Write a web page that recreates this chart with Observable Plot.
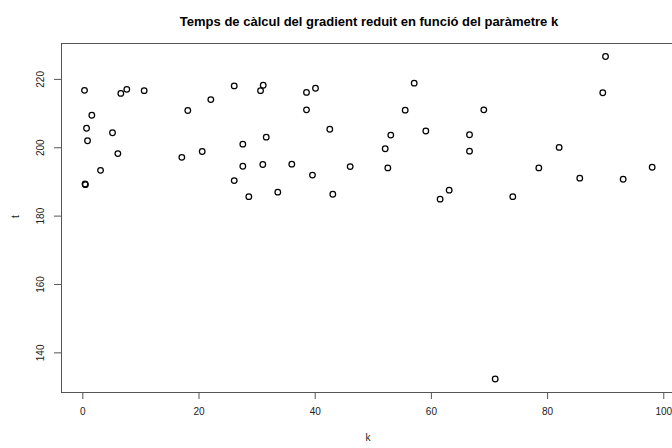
<!DOCTYPE html>
<html>
<head>
<meta charset="utf-8">
<script src="https://cdn.jsdelivr.net/npm/d3@7"></script>
<script src="https://cdn.jsdelivr.net/npm/@observablehq/plot@0.6"></script>
<style>
  html, body { margin: 0; padding: 0; background: #fff; }
  svg { display: block; }
</style>
</head>
<body>
<div id="chart"></div>
<script>
const titleText = "Temps de càlcul del gradient reduit en funció del paràmetre k";
const xLabel = "k";
const yLabel = "t";
const xTicks = [0, 20, 40, 60, 80, 100];
const yTicks = [140, 160, 180, 200, 220];

const kValues = [
  0.29, 1.55, 0.64, 0.81, 0.38, 0.44, 3.05, 5.11, 6.03, 6.54, 7.57, 10.56,
  17.04, 18.07, 20.55, 22.03, 26.06, 26.06,
  27.54, 27.54, 28.57, 31.05, 30.59, 31.57, 30.98, 33.56, 35.97, 38.5, 38.5,
  40.05, 39.53, 42.51, 43.03, 46.02, 52.05, 53.01, 52.5, 55.49, 57.04, 59.04,
  61.5, 63.06,
  66.56, 66.56, 69.02, 70.98, 74.01, 78.49, 81.99, 85.54, 89.5, 89.97, 93.01, 98.0
];
const tValues = [
  216.8, 209.5, 205.7, 202.05, 189.4, 189.2, 193.4, 204.4, 198.3, 215.9, 217.1, 216.7,
  197.2, 210.9, 198.9, 214.1, 218.1, 190.4,
  201.05, 194.6, 185.7, 218.3, 216.7, 203.1, 195.1, 187.0, 195.2, 216.2, 211.1,
  217.4, 192.0, 205.4, 186.4, 194.5, 199.7, 203.7, 194.1, 211.0, 218.9, 204.9,
  184.95, 187.6,
  203.8, 199.0, 211.1, 132.35, 185.7, 194.1, 200.1, 191.1, 216.1, 226.7, 190.8, 194.3
];

const data = kValues.map((k, i) => ({k, t: tValues[i]}));
const xDomain = [-3.67, 101.5];
const yDomain = [128.4, 230.5];
const lineColor = "#555";
const font = "'Liberation Sans', Arial, Helvetica, sans-serif";

const chart = Plot.plot({
  width: 672,
  height: 448,
  marginLeft: 61,
  marginRight: 0,
  marginTop: 43,
  marginBottom: 56,
  style: {fontFamily: font, fontSize: "10px", color: "#222", background: "#fff"},
  x: {domain: xDomain, axis: null},
  y: {domain: yDomain, axis: null},
  marks: [
    // box (top, bottom, left); right edge lies outside the image
    Plot.ruleY(yDomain, {stroke: lineColor, strokeWidth: 1}),
    Plot.ruleX([xDomain[0]], {stroke: lineColor, strokeWidth: 1}),
    // x axis
    Plot.axisX(xTicks, {anchor: "bottom", tickSize: 7, tickPadding: 8, stroke: lineColor, fontSize: 10, fill: "#222", label: null}),
    Plot.ruleY([yDomain[0]], {x1: xTicks[0], x2: xTicks[xTicks.length - 1], stroke: lineColor}),
    // y axis ticks
    Plot.axisY(yTicks, {anchor: "left", tickSize: 7, tickFormat: () => "", stroke: lineColor, label: null}),
    Plot.text(yTicks, {y: d => d, text: d => String(d), frameAnchor: "left", dx: -21, rotate: -90, textAnchor: "middle", lineAnchor: "middle", fontSize: 10, fill: "#222"}),
    // points
    Plot.dot(data, {x: "k", y: "t", r: 2.8, stroke: "#000", strokeWidth: 1.25, fill: "none"}),
    // labels
    Plot.text([xLabel], {frameAnchor: "bottom", dy: 48, dx: 1, fontSize: 10, fill: "#222"}),
    Plot.text([yLabel], {frameAnchor: "left", dx: -46, rotate: -90, fontSize: 10, fill: "#222"}),
    Plot.text([titleText], {frameAnchor: "top", dy: -27, dx: 2, fontSize: 13, fontWeight: "bold", fill: "#000"})
  ]
});
document.getElementById("chart").appendChild(chart);
</script>
</body>
</html>
